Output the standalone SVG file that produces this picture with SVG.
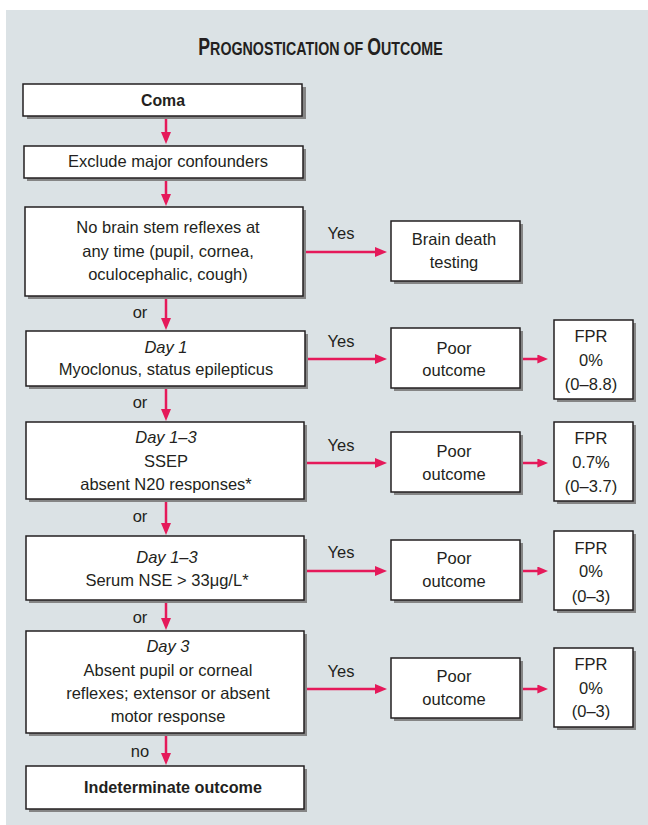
<svg xmlns="http://www.w3.org/2000/svg" width="648" height="825" viewBox="0 0 648 825">
  <style>
    .panel { fill: #dbe2e5; }
    .box { fill: #ffffff; stroke: #231f20; stroke-width: 1.5; }
    .shadow { fill: #858585; }
    text { font-family: "Liberation Sans", Arial, sans-serif; font-size: 16.5px; fill: #231f20; text-anchor: middle; }
    .b { font-weight: bold; font-size: 17px; }
    .i { font-style: italic; }
    .title { font-weight: bold; font-size: 18.5px; }
    .conn { stroke: #e5195a; stroke-width: 2.5; fill: none; }
  </style>
  <defs>
    <marker id="ah" viewBox="0 0 12 10" refX="4" refY="5" markerWidth="12" markerHeight="10" markerUnits="userSpaceOnUse" orient="auto">
      <path d="M0,0 L12,5 L0,10 Z" fill="#e5195a"/>
    </marker>
    <marker id="ahs" viewBox="0 0 12 10" refX="4" refY="5" markerWidth="11" markerHeight="9" markerUnits="userSpaceOnUse" orient="auto">
      <path d="M0,0 L12,5 L0,10 Z" fill="#e5195a"/>
    </marker>
  </defs>

  <!-- background panel -->
  <rect class="panel" x="6" y="10" width="642" height="815"/>

  <!-- title in condensed small caps -->
  <g transform="translate(320.5,55) scale(0.77,1)">
    <text class="title" x="0" y="0"><tspan font-size="23">P</tspan>ROGNOSTICATION OF <tspan font-size="23">O</tspan>UTCOME</text>
  </g>

  <!-- connectors -->
  <g id="connectors">
    <!-- main vertical chain -->
    <path class="conn" d="M166,117 V136" marker-end="url(#ah)"/>
    <path class="conn" d="M166,179 V198" marker-end="url(#ah)"/>
    <path class="conn" d="M166,298 V322" marker-end="url(#ah)"/>
    <path class="conn" d="M166,388 V413" marker-end="url(#ah)"/>
    <path class="conn" d="M166,501 V527" marker-end="url(#ah)"/>
    <path class="conn" d="M166,602 V622" marker-end="url(#ah)"/>
    <path class="conn" d="M166,735 V757" marker-end="url(#ah)"/>
    <!-- "Yes" branches -->
    <path class="conn" d="M305,252 H379" marker-end="url(#ah)"/>
    <path class="conn" d="M306,359 H379" marker-end="url(#ah)"/>
    <path class="conn" d="M306,463 H379" marker-end="url(#ah)"/>
    <path class="conn" d="M306,571 H379" marker-end="url(#ah)"/>
    <path class="conn" d="M306,689 H379" marker-end="url(#ah)"/>
    <!-- outcome to FPR -->
    <path class="conn" d="M523,359 H541" marker-end="url(#ahs)"/>
    <path class="conn" d="M523,463 H541" marker-end="url(#ahs)"/>
    <path class="conn" d="M523,571 H541" marker-end="url(#ahs)"/>
    <path class="conn" d="M523,689 H541" marker-end="url(#ahs)"/>
    <!-- connector labels -->
    <text x="140" y="318">or</text>
    <text x="140" y="408">or</text>
    <text x="140" y="522">or</text>
    <text x="140" y="623">or</text>
    <text x="140" y="757">no</text>
    <text x="341" y="239">Yes</text>
    <text x="341" y="347">Yes</text>
    <text x="341" y="451">Yes</text>
    <text x="341" y="558">Yes</text>
    <text x="341" y="677">Yes</text>
  </g>

  <!-- left column -->
  <g id="coma">
    <rect class="shadow" x="27" y="87" width="279" height="32"/>
    <rect class="box" x="23" y="84" width="279" height="32"/>
    <text class="b" x="163" y="106" textLength="44" lengthAdjust="spacingAndGlyphs">Coma</text>
  </g>
  <g id="confounders">
    <rect class="shadow" x="27" y="149" width="279" height="32"/>
    <rect class="box" x="24" y="146" width="279" height="32"/>
    <text x="168" y="167">Exclude major confounders</text>
  </g>
  <g id="brainstem">
    <rect class="shadow" x="28" y="210" width="278" height="89"/>
    <rect class="box" x="25" y="207" width="278" height="89"/>
    <text x="168" y="233">No brain stem reflexes at</text>
    <text x="168" y="256.5">any time (pupil, cornea,</text>
    <text x="168" y="280">oculocephalic, cough)</text>
  </g>
  <g id="day1">
    <rect class="shadow" x="29" y="334" width="279" height="55"/>
    <rect class="box" x="26" y="331" width="279" height="55"/>
    <text class="i" x="166" y="353">Day 1</text>
    <text x="166" y="375">Myoclonus, status epilepticus</text>
  </g>
  <g id="ssep">
    <rect class="shadow" x="29" y="425" width="278" height="77"/>
    <rect class="box" x="26" y="422" width="278" height="77"/>
    <text class="i" x="166" y="443">Day 1–3</text>
    <text x="166" y="467">SSEP</text>
    <text x="166" y="490">absent N20 responses*</text>
  </g>
  <g id="nse">
    <rect class="shadow" x="29" y="539" width="278" height="64"/>
    <rect class="box" x="26" y="536" width="278" height="64"/>
    <text class="i" x="167" y="563">Day 1–3</text>
    <text x="167" y="586">Serum NSE &gt; 33μg/L*</text>
  </g>
  <g id="day3">
    <rect class="shadow" x="29" y="634" width="278" height="102"/>
    <rect class="box" x="26" y="631" width="278" height="102"/>
    <text class="i" x="168" y="652">Day 3</text>
    <text x="168" y="676">Absent pupil or corneal</text>
    <text x="168" y="699">reflexes; extensor or absent</text>
    <text x="168" y="722">motor response</text>
  </g>
  <g id="indeterminate">
    <rect class="shadow" x="29" y="769" width="278" height="43"/>
    <rect class="box" x="26" y="766" width="278" height="43"/>
    <text class="b" x="173" y="793" textLength="178" lengthAdjust="spacingAndGlyphs">Indeterminate outcome</text>
  </g>

  <!-- right side -->
  <g id="braindeath">
    <rect class="shadow" x="394" y="224" width="129" height="60"/>
    <rect class="box" x="391" y="221" width="129" height="60"/>
    <text x="454" y="245">Brain death</text>
    <text x="454" y="267.5">testing</text>
  </g>
  <g id="poor1">
    <rect class="shadow" x="394" y="331" width="129" height="60"/>
    <rect class="box" x="391" y="328" width="129" height="60"/>
    <text x="454" y="353.5">Poor</text>
    <text x="454" y="376">outcome</text>
  </g>
  <g id="fpr1">
    <rect class="shadow" x="557" y="323" width="79" height="79"/>
    <rect class="box" x="554" y="320" width="79" height="79"/>
    <text x="591" y="342">FPR</text>
    <text x="591" y="366">0%</text>
    <text x="591" y="389.5">(0–8.8)</text>
  </g>
  <g id="poor2">
    <rect class="shadow" x="394" y="435" width="129" height="60"/>
    <rect class="box" x="391" y="432" width="129" height="60"/>
    <text x="454" y="457">Poor</text>
    <text x="454" y="479.5">outcome</text>
  </g>
  <g id="fpr2">
    <rect class="shadow" x="557" y="425" width="79" height="79"/>
    <rect class="box" x="554" y="422" width="79" height="79"/>
    <text x="591" y="444">FPR</text>
    <text x="591" y="467.5">0.7%</text>
    <text x="591" y="491.5">(0–3.7)</text>
  </g>
  <g id="poor3">
    <rect class="shadow" x="394" y="543" width="129" height="60"/>
    <rect class="box" x="391" y="540" width="129" height="60"/>
    <text x="454" y="563.5">Poor</text>
    <text x="454" y="586.5">outcome</text>
  </g>
  <g id="fpr3">
    <rect class="shadow" x="557" y="534" width="79" height="79"/>
    <rect class="box" x="554" y="531" width="79" height="79"/>
    <text x="591" y="553.5">FPR</text>
    <text x="591" y="577">0%</text>
    <text x="591" y="601.5">(0–3)</text>
  </g>
  <g id="poor4">
    <rect class="shadow" x="394" y="661" width="129" height="60"/>
    <rect class="box" x="391" y="658" width="129" height="60"/>
    <text x="454" y="682">Poor</text>
    <text x="454" y="705">outcome</text>
  </g>
  <g id="fpr4">
    <rect class="shadow" x="557" y="651" width="79" height="79"/>
    <rect class="box" x="554" y="648" width="79" height="79"/>
    <text x="591" y="670">FPR</text>
    <text x="591" y="694">0%</text>
    <text x="591" y="717">(0–3)</text>
  </g>
</svg>
